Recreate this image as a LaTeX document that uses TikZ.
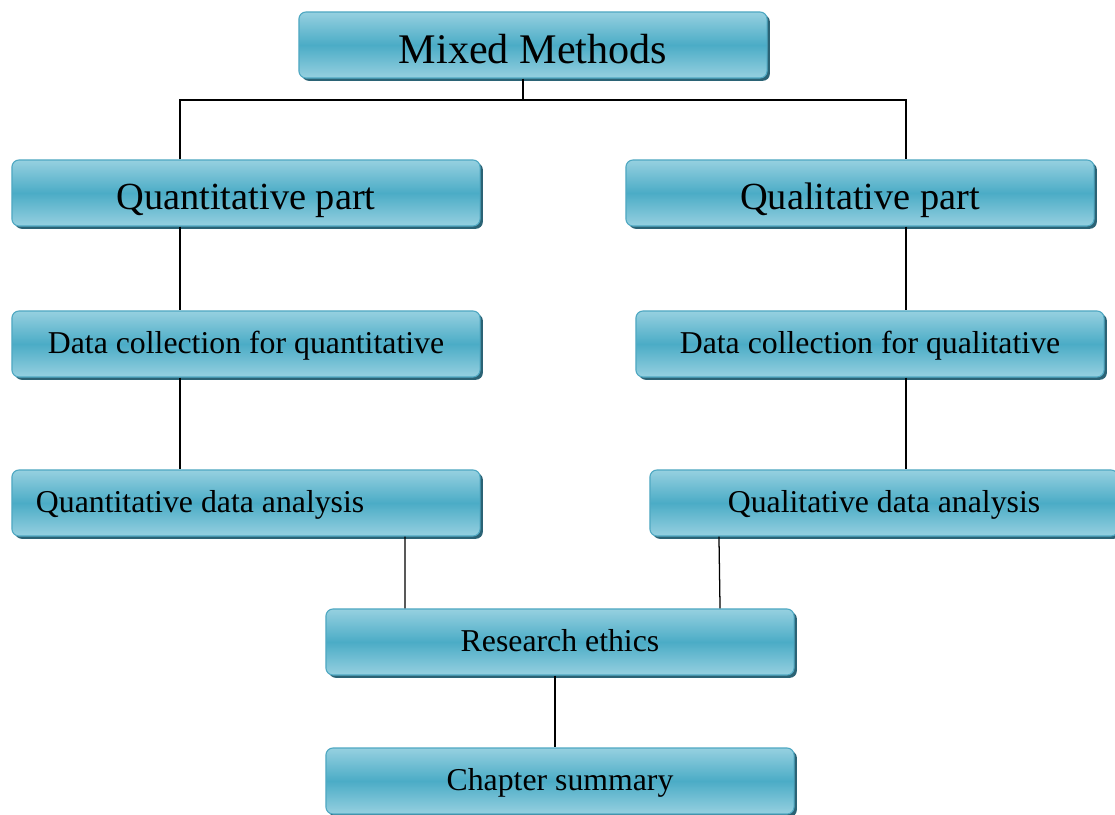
\documentclass[tikz,border=0pt]{standalone}
\usepackage{fontspec}
\setmainfont{Liberation Serif}
\usetikzlibrary{shadows}

\definecolor{boxline}{HTML}{4FA8C2}
\definecolor{boxlight}{HTML}{96D0E0}
\definecolor{boxmid}{HTML}{4BACC6}
\definecolor{boxshadow}{HTML}{2B6375}

\tikzset{
    stage/.style={rectangle, rounded corners=5pt, draw=boxline, line width=0.8pt,
        top color=boxlight, bottom color=boxlight, middle color=boxmid,
        minimum width=11.7cm, minimum height=1.65cm, inner sep=0pt, text depth=0pt,
        drop shadow={shadow xshift=2pt, shadow yshift=-2pt, fill=boxshadow, opacity=1}},
    bigtext/.style={font=\fontsize{30}{36}\selectfont, text height=27pt},
    midtext/.style={font=\fontsize{27.3}{33}\selectfont, text height=24pt},
    smalltext/.style={font=\fontsize{22.6}{27}\selectfont, text height=13.5pt},
    link/.style={line width=0.9pt}
}

\begin{document}
\begin{tikzpicture}[x=0.025cm, y=-0.025cm]

    \useasboundingbox (0,0) rectangle (1115,814);

    \node[stage, bigtext] (mixed) at (533,45) {Mixed Methods};

    \node[stage, midtext] (quantpart) at (246,193) {Quantitative part};
    \node[stage, midtext] (qualpart) at (860,193) {Qualitative part};

    \node[stage, smalltext] (quantcoll) at (246,344) {Data collection for quantitative};
    \node[stage, smalltext] (qualcoll) at (870,344) {Data collection for qualitative};

    \node[stage, smalltext, text width=10.5cm, align=flush left, inner xsep=0.6cm] (quantana) at (246,503) {Quantitative data analysis};
    \node[stage, smalltext] (qualana) at (884,503) {Qualitative data analysis};

    \node[stage, smalltext] (ethics) at (560,642) {Research ethics};
    \node[stage, smalltext] (summary) at (560,781) {Chapter summary};

    \coordinate (bus) at (523,100);
    \coordinate (leftline) at (180,0);
    \coordinate (rightline) at (906,0);

    \draw[link] (bus |- mixed.south) -- (bus);
    \draw[link] (leftline |- quantpart.north) |- (bus) -| (rightline |- qualpart.north);

    \draw[link] (leftline |- quantpart.south) -- (leftline |- quantcoll.north);
    \draw[link] (rightline |- qualpart.south) -- (rightline |- qualcoll.north);
    \draw[link] (leftline |- quantcoll.south) -- (leftline |- quantana.north);
    \draw[link] (rightline |- qualcoll.south) -- (rightline |- qualana.north);

    \draw[link] ([xshift=3.975cm]quantana.south) -- ([xshift=-3.875cm]ethics.north);
    \draw[link] ([xshift=-4.125cm]qualana.south) -- ([xshift=4cm]ethics.north);
    \draw[link] ([xshift=-0.125cm]ethics.south) -- ([xshift=-0.125cm]summary.north);

\end{tikzpicture}
\end{document}
